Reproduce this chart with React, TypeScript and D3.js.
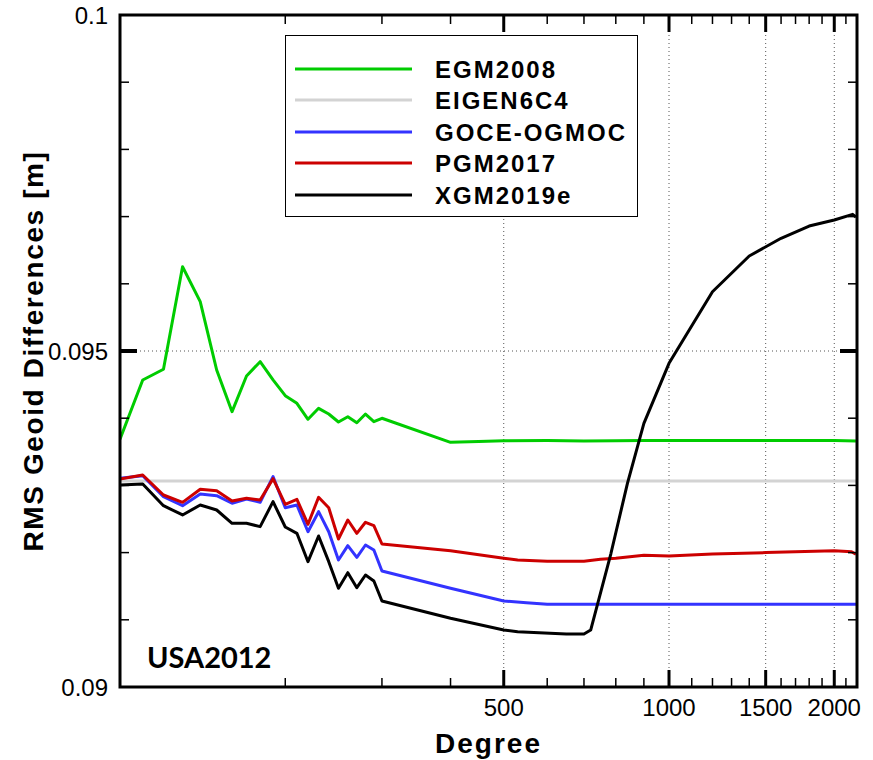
import React from "react";
import * as d3 from "d3";

// ---------- data ----------
const lowDegrees = [100, 110, 120, 130, 140, 150, 160, 170, 180, 190, 200, 210, 220, 230, 240, 250, 260, 270, 280, 290, 300];

const egmLowVals = [0.093686, 0.094568, 0.094728, 0.096254, 0.095734, 0.094717, 0.094097, 0.094628, 0.094841, 0.09457, 0.094335, 0.094222, 0.093984, 0.094147, 0.094062, 0.093943, 0.094022, 0.093933, 0.094062, 0.093948, 0.093999];
const egmHighDeg = [400, 450, 500, 600, 700, 800, 900, 1000, 1200, 1500, 2000, 2190];
const egmHighVals = [0.093641, 0.093655, 0.093665, 0.093667, 0.093662, 0.093666, 0.093668, 0.093668, 0.093668, 0.093668, 0.093668, 0.093662];

const eigenDeg = [100, 2200];
const eigenVals = [0.093065, 0.093065];

const goceLowVals = [0.093105, 0.093145, 0.092832, 0.092698, 0.092872, 0.092847, 0.092734, 0.092798, 0.092748, 0.09313, 0.092668, 0.092708, 0.092311, 0.092609, 0.092311, 0.09189, 0.092103, 0.09193, 0.092113, 0.092039, 0.091726];
const goceHighDeg = [400, 500, 550, 600, 2200];
const goceHighVals = [0.091469, 0.09128, 0.091255, 0.09123, 0.09123];

const pgmLowVals = [0.093095, 0.093155, 0.092857, 0.092748, 0.092942, 0.092921, 0.092768, 0.092808, 0.092783, 0.0931, 0.092719, 0.092793, 0.092421, 0.092823, 0.092668, 0.092202, 0.092485, 0.092287, 0.092451, 0.0924, 0.092128];
const pgmHighDeg = [400, 500, 530, 600, 700, 750, 800, 900, 1000, 1200, 1500, 2000, 2150, 2190];
const pgmHighVals = [0.092028, 0.091915, 0.09189, 0.09187, 0.09187, 0.0919, 0.091915, 0.09196, 0.09195, 0.091979, 0.092, 0.092028, 0.092013, 0.091975];

const xgmLowVals = [0.093006, 0.093021, 0.092698, 0.09256, 0.092708, 0.092634, 0.092436, 0.092436, 0.092386, 0.092758, 0.092381, 0.092287, 0.091865, 0.092247, 0.091865, 0.091469, 0.091701, 0.091478, 0.091667, 0.091577, 0.09128];
const xgmHighDeg = [400, 500, 530, 580, 650, 700, 720, 784, 840, 900, 1000, 1200, 1400, 1600, 1800, 2000, 2160, 2190];
const xgmHighVals = [0.091022, 0.090848, 0.090823, 0.090808, 0.090789, 0.090789, 0.090848, 0.09199, 0.093031, 0.093924, 0.094817, 0.095882, 0.096414, 0.096677, 0.09686, 0.096949, 0.097034, 0.096994];

const seriesNames = ["EGM2008", "EIGEN6C4", "GOCE-OGMOC", "PGM2017", "XGM2019e"];
const seriesColors = ["#00cc00", "#d3d3d3", "#3333ff", "#cc0000", "#000000"];

const xMajorTicks = [500, 1000, 1500, 2000];
const xMinorTicks = [200, 300, 400, 600, 700, 800, 900, 1100, 1200, 1300, 1400, 1600, 1700, 1800, 1900, 2100];
const yLabelTicks = [0.09, 0.095, 0.1];
const yLabelText = ["0.09", "0.095", "0.1"];
const yMinorTicks = [0.091, 0.092, 0.093, 0.094, 0.096, 0.097, 0.098, 0.099];

// ---------- helpers ----------
function build(lowVals: number[] | null, hiDeg: number[], hiVals: number[]) {
  const pts: [number, number][] = [];
  if (lowVals) lowDegrees.forEach((d, i) => pts.push([d, lowVals[i]]));
  hiDeg.forEach((d, i) => pts.push([d, hiVals[i]]));
  return pts;
}

const seriesData = [
  build(egmLowVals, egmHighDeg, egmHighVals),
  build(null, eigenDeg, eigenVals),
  build(goceLowVals, goceHighDeg, goceHighVals),
  build(pgmLowVals, pgmHighDeg, pgmHighVals),
  build(xgmLowVals, xgmHighDeg, xgmHighVals),
];

export default function App() {
  const W = 873, H = 760;
  const L = 120, R = 857, T = 15, B = 687;
  const x = d3.scaleLog().domain([100, 2200]).range([L, R]);
  const y = d3.scaleLinear().domain([0.09, 0.1]).range([B, T]);
  const line = d3.line<[number, number]>().x(d => x(d[0])).y(d => y(d[1]));
  const font = "'Liberation Sans', Arial, sans-serif";

  const legendX = 285, legendY = 35, legendW = 352, legendH = 181;
  const legendRows = [69, 100, 132, 163, 195];

  return (
    <svg width={W} height={H} style={{ position: "absolute", left: 0, top: 0, background: "#fff" }}>
      <defs>
        <clipPath id="plotclip">
          <rect x={L} y={T} width={R - L} height={B - T} />
        </clipPath>
      </defs>
      <rect x={0} y={0} width={W} height={H} fill="#fff" />

      {/* grid */}
      {xMajorTicks.map(t => (
        <line key={"gx" + t} x1={x(t)} x2={x(t)} y1={T} y2={B} stroke="#555" strokeWidth={1} strokeDasharray="1,3" />
      ))}
      <line x1={L} x2={R} y1={y(0.095)} y2={y(0.095)} stroke="#555" strokeWidth={1} strokeDasharray="1,3" />

      {/* series */}
      <g clipPath="url(#plotclip)">
        {seriesData.map((pts, i) => (
          <path key={seriesNames[i]} d={line(pts) || ""} fill="none" stroke={seriesColors[i]} strokeWidth={3} strokeLinejoin="round" />
        ))}
      </g>

      {/* x ticks */}
      {xMinorTicks.map(t => (
        <g key={"mx" + t}>
          <line x1={x(t)} x2={x(t)} y1={B} y2={B - 9} stroke="#000" strokeWidth={1.5} />
          <line x1={x(t)} x2={x(t)} y1={T} y2={T + 9} stroke="#000" strokeWidth={1.5} />
        </g>
      ))}
      {xMajorTicks.map(t => (
        <g key={"Mx" + t}>
          <line x1={x(t)} x2={x(t)} y1={B} y2={B - 17} stroke="#000" strokeWidth={3} />
          <line x1={x(t)} x2={x(t)} y1={T} y2={T + 17} stroke="#000" strokeWidth={3} />
          <text x={x(t)} y={716} textAnchor="middle" fontFamily={font} fontSize={24} fill="#000">{t}</text>
        </g>
      ))}

      {/* y ticks */}
      {yMinorTicks.map(t => (
        <g key={"my" + t}>
          <line x1={L} x2={L + 9} y1={y(t)} y2={y(t)} stroke="#000" strokeWidth={1.5} />
          <line x1={R} x2={R - 9} y1={y(t)} y2={y(t)} stroke="#000" strokeWidth={1.5} />
        </g>
      ))}
      <line x1={L} x2={L + 17} y1={y(0.095)} y2={y(0.095)} stroke="#000" strokeWidth={4} />
      <line x1={R} x2={R - 17} y1={y(0.095)} y2={y(0.095)} stroke="#000" strokeWidth={4} />
      {yLabelTicks.map((t, i) => (
        <text key={"ly" + t} x={108} y={y(t) + 8.5} textAnchor="end" fontFamily={font} fontSize={24} fill="#000">{yLabelText[i]}</text>
      ))}

      {/* frame */}
      <rect x={L} y={T} width={R - L} height={B - T} fill="none" stroke="#000" strokeWidth={3} />

      {/* legend */}
      <rect x={legendX + 0.5} y={legendY + 0.5} width={legendW} height={legendH} fill="#fff" stroke="#000" strokeWidth={1} />
      {seriesNames.map((n, i) => (
        <g key={"lg" + n}>
          <line x1={295} x2={412} y1={legendRows[i]} y2={legendRows[i]} stroke={seriesColors[i]} strokeWidth={3} />
          <text x={435} y={legendRows[i] + 8.5} fontFamily={font} fontWeight="bold" fontSize={24} letterSpacing={2} fill="#000">{n}</text>
        </g>
      ))}

      {/* annotation */}
      <text x={147} y={668} fontFamily="Lato, 'Open Sans', sans-serif" fontWeight="bold" fontSize={29} fill="#000">USA2012</text>

      {/* axis titles */}
      <text x={(L + R) / 2} y={753} textAnchor="middle" fontFamily={font} fontWeight="bold" fontSize={28} letterSpacing={2} fill="#000">Degree</text>
      <text transform={`translate(43,${(T + B) / 2}) rotate(-90)`} textAnchor="middle" fontFamily={font} fontWeight="bold" fontSize={28} letterSpacing={1.6} fill="#000">RMS Geoid Differences [m]</text>
    </svg>
  );
}
